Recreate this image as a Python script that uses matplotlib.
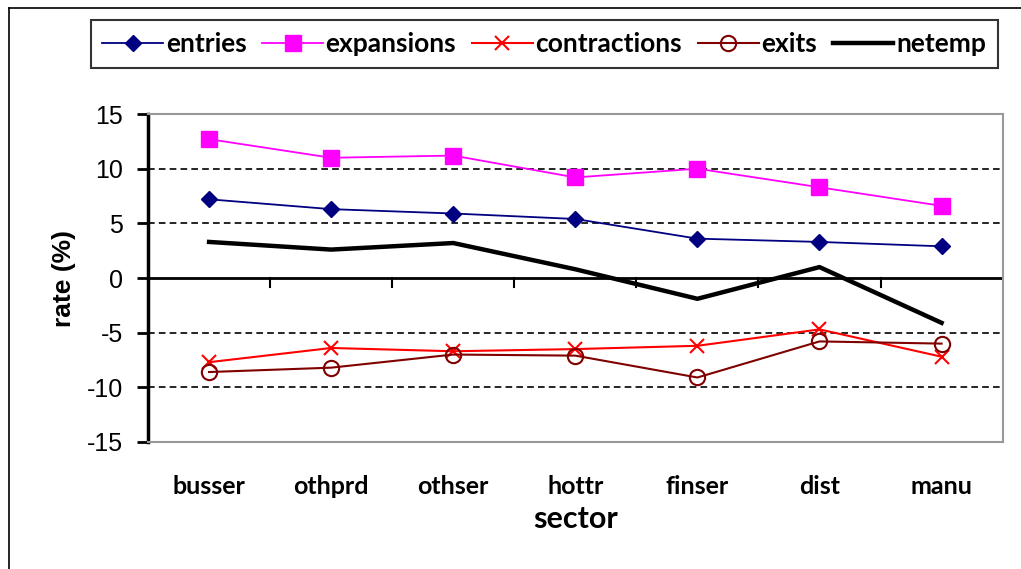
import matplotlib.pyplot as plt
from matplotlib.lines import Line2D
import numpy as np

# data
sectors = ["busser", "othprd", "othser", "hottr", "finser", "dist", "manu"]
entries = [7.2, 6.3, 5.9, 5.4, 3.6, 3.3, 2.9]
expansions = [12.7, 11.0, 11.2, 9.2, 10.0, 8.3, 6.6]
contractions = [-7.7, -6.4, -6.7, -6.5, -6.2, -4.7, -7.2]
exits = [-8.6, -8.2, -7.0, -7.1, -9.1, -5.8, -6.0]
netemp = [3.3, 2.6, 3.2, 0.8, -1.9, 1.0, -4.1]
yticks = [-15, -10, -5, 0, 5, 10, 15]

bold_font = ["Lato", "DejaVu Sans"]
arial = ["Liberation Sans", "DejaVu Sans"]

fig = plt.figure(figsize=(10.21, 5.69), dpi=100)
ax = fig.add_axes([0.145, 0.2232, 0.837, 0.5764])

x = np.arange(len(sectors))

# gridlines dashed
for v in [-10, -5, 5, 10]:
    ax.axhline(v, color="black", lw=1.2, ls=(0, (4, 2.5)), zorder=1)
ax.axhline(0, color="black", lw=2, zorder=2)

ax.plot(x, entries, color="#000080", marker="D", ms=8, lw=1.3, label="entries", zorder=4)
ax.plot(x, expansions, color="#FF00FF", marker="s", ms=11, lw=1.3, label="expansions", zorder=4)
ax.plot(x, contractions, color="#FF0000", marker="x", ms=10, mew=1.5, lw=1.5, label="contractions", zorder=4)
ax.plot(x, exits, color="#800000", marker="o", ms=11, mfc="none", mew=1.5, lw=1.5, label="exits", zorder=4)
ax.plot(x, netemp, color="black", lw=3.2, label="netemp", zorder=3)

ax.set_xlim(-0.5, len(sectors) - 0.5)
ax.set_ylim(-15, 15)
ax.set_yticks(yticks)
ax.set_yticklabels([str(v) for v in yticks], fontsize=18, family=arial)
ax.tick_params(axis="y", direction="out", length=8, width=2, pad=10)

# x tick labels without ticks (ticks drawn on the zero line)
ax.set_xticks(x)
ax.set_xticklabels(sectors, fontsize=18, fontweight="bold", family=bold_font)
ax.tick_params(axis="x", length=0, pad=24)
for b in np.arange(0.5, len(sectors) - 0.5, 1.0):
    ax.plot([b, b], [0, -0.8], color="black", lw=1.5, zorder=2)

ax.set_ylabel("rate (%)", fontsize=19, fontweight="bold", family=arial, labelpad=8)
ax.set_xlabel("sector", fontsize=22, fontweight="bold", family=bold_font, labelpad=5)

ax.spines["left"].set_linewidth(2.5)
ax.spines["left"].set_color("black")
for s in ["top", "right", "bottom"]:
    ax.spines[s].set_color("#999999")
    ax.spines[s].set_linewidth(1.5)

leg = fig.legend(loc="center", bbox_to_anchor=(0.533, 0.923), ncol=5, frameon=True,
                 fancybox=False, edgecolor="black", handlelength=2.3, handletextpad=0.1,
                 columnspacing=0.6, borderpad=0.45,
                 prop={"family": bold_font, "weight": "bold", "size": 19})
leg.get_frame().set_linewidth(1.5)

# outer chart border (left and top visible)
fig.add_artist(Line2D([9 / 1021, 9 / 1021], [0, 1 - 8 / 569], color="black", lw=1.2))
fig.add_artist(Line2D([9 / 1021, 1], [1 - 8 / 569, 1 - 8 / 569], color="black", lw=1.2))

fig.savefig("out.png", dpi=100)
